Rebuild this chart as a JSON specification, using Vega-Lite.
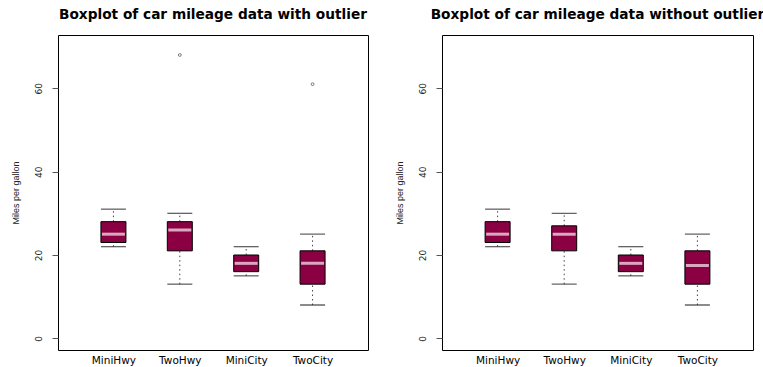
{
  "$schema": "https://vega.github.io/schema/vega-lite/v6.json",
  "padding": {"left": 10, "top": 7, "right": 0, "bottom": 0},
  "background": "white",
  "bounds": "flush",
  "spacing": 74,
  "config": {
    "view": {"stroke": "#000000", "strokeWidth": 1},
    "font": "DejaVu Sans",
    "title": {"font": "DejaVu Sans", "fontSize": 13.7, "fontWeight": "bold", "color": "#000000", "anchor": "middle", "baseline": "alphabetic", "offset": 13},
    "axis": {"grid": false, "labelFont": "DejaVu Sans", "titleFont": "Liberation Sans"}
  },
  "datasets": {
    "boxes": [
      {"panel": "with", "group": "MiniHwy", "lower": 22, "q1": 23, "median": 25, "q3": 28, "upper": 31},
      {"panel": "with", "group": "TwoHwy", "lower": 13, "q1": 21, "median": 26, "q3": 28, "upper": 30},
      {"panel": "with", "group": "MiniCity", "lower": 15, "q1": 16, "median": 18, "q3": 20, "upper": 22},
      {"panel": "with", "group": "TwoCity", "lower": 8, "q1": 13, "median": 18, "q3": 21, "upper": 25},
      {"panel": "without", "group": "MiniHwy", "lower": 22, "q1": 23, "median": 25, "q3": 28, "upper": 31},
      {"panel": "without", "group": "TwoHwy", "lower": 13, "q1": 21, "median": 25, "q3": 27, "upper": 30},
      {"panel": "without", "group": "MiniCity", "lower": 15, "q1": 16, "median": 18, "q3": 20, "upper": 22},
      {"panel": "without", "group": "TwoCity", "lower": 8, "q1": 13, "median": 17.5, "q3": 21, "upper": 25}
    ],
    "outliers": [
      {"panel": "with", "group": "TwoHwy", "value": 68},
      {"panel": "with", "group": "TwoCity", "value": 61}
    ]
  },
  "hconcat": [
    {
      "title": "Boxplot of car mileage data with outlier",
      "width": 310,
      "height": 315,
      "data": {"name": "boxes"},
      "transform": [{"filter": "datum.panel === 'with'"}],
      "encoding": {
        "x": {"field": "group", "type": "nominal", "sort": ["MiniHwy", "TwoHwy", "MiniCity", "TwoCity"], "scale": {"type": "point", "padding": 0.835},
          "axis": {"title": null, "labelAngle": 0, "ticks": false, "domain": false, "labelFontSize": 10.5, "labelColor": "#000000", "labelPadding": 5, "labelBaseline": "top"}}
      },
      "layer": [
        {"mark": {"type": "rule", "strokeDash": [1.5, 3], "color": "#444444", "strokeWidth": 1},
         "encoding": {"y": {"field": "q3", "type": "quantitative", "scale": {"domain": [-2.8, 72.8], "nice": false, "zero": false},
           "axis": {"title": "Miles per gallon", "values": [0, 20, 40, 60], "domain": false, "tickSize": 6, "tickColor": "#555555", "labelAngle": -90, "labelAlign": "center", "labelBaseline": "bottom", "labelPadding": 9, "labelFontSize": 9, "labelColor": "#222222", "titleFontSize": 9, "titleFontWeight": "normal", "titleColor": "#222222", "titlePadding": 14}},
           "y2": {"field": "upper"}}},
        {"mark": {"type": "rule", "strokeDash": [1.5, 3], "color": "#444444", "strokeWidth": 1},
         "encoding": {"y": {"field": "lower", "type": "quantitative"}, "y2": {"field": "q1"}}},
        {"mark": {"type": "tick", "size": 25, "thickness": 1.3, "color": "#222222"},
         "encoding": {"y": {"field": "upper", "type": "quantitative"}}},
        {"mark": {"type": "tick", "size": 25, "thickness": 1.3, "color": "#222222"},
         "encoding": {"y": {"field": "lower", "type": "quantitative"}}},
        {"mark": {"type": "bar", "size": 25, "fill": "#8a0042", "stroke": "#000000", "strokeWidth": 1},
         "encoding": {"y": {"field": "q1", "type": "quantitative"}, "y2": {"field": "q3"}}},
        {"mark": {"type": "tick", "size": 23, "thickness": 3, "color": "#faf0f4"},
         "encoding": {"y": {"field": "median", "type": "quantitative"}}},
        {"data": {"name": "outliers"},
         "transform": [{"filter": "datum.panel === 'with'"}],
         "mark": {"type": "point", "shape": "circle", "size": 8, "filled": false, "stroke": "#444444", "strokeWidth": 1},
         "encoding": {"y": {"field": "value", "type": "quantitative"}}}
      ]
    },
    {
      "title": "Boxplot of car mileage data without outlier",
      "width": 311,
      "height": 315,
      "data": {"name": "boxes"},
      "transform": [{"filter": "datum.panel === 'without'"}],
      "encoding": {
        "x": {"field": "group", "type": "nominal", "sort": ["MiniHwy", "TwoHwy", "MiniCity", "TwoCity"], "scale": {"type": "point", "padding": 0.835},
          "axis": {"title": null, "labelAngle": 0, "ticks": false, "domain": false, "labelFontSize": 10.5, "labelColor": "#000000", "labelPadding": 5, "labelBaseline": "top"}}
      },
      "layer": [
        {"mark": {"type": "rule", "strokeDash": [1.5, 3], "color": "#444444", "strokeWidth": 1},
         "encoding": {"y": {"field": "q3", "type": "quantitative", "scale": {"domain": [-2.8, 72.8], "nice": false, "zero": false},
           "axis": {"title": "Miles per gallon", "values": [0, 20, 40, 60], "domain": false, "tickSize": 6, "tickColor": "#555555", "labelAngle": -90, "labelAlign": "center", "labelBaseline": "bottom", "labelPadding": 9, "labelFontSize": 9, "labelColor": "#222222", "titleFontSize": 9, "titleFontWeight": "normal", "titleColor": "#222222", "titlePadding": 14}},
           "y2": {"field": "upper"}}},
        {"mark": {"type": "rule", "strokeDash": [1.5, 3], "color": "#444444", "strokeWidth": 1},
         "encoding": {"y": {"field": "lower", "type": "quantitative"}, "y2": {"field": "q1"}}},
        {"mark": {"type": "tick", "size": 25, "thickness": 1.3, "color": "#222222"},
         "encoding": {"y": {"field": "upper", "type": "quantitative"}}},
        {"mark": {"type": "tick", "size": 25, "thickness": 1.3, "color": "#222222"},
         "encoding": {"y": {"field": "lower", "type": "quantitative"}}},
        {"mark": {"type": "bar", "size": 25, "fill": "#8a0042", "stroke": "#000000", "strokeWidth": 1},
         "encoding": {"y": {"field": "q1", "type": "quantitative"}, "y2": {"field": "q3"}}},
        {"mark": {"type": "tick", "size": 23, "thickness": 3, "color": "#faf0f4"},
         "encoding": {"y": {"field": "median", "type": "quantitative"}}}
      ]
    }
  ]
}
